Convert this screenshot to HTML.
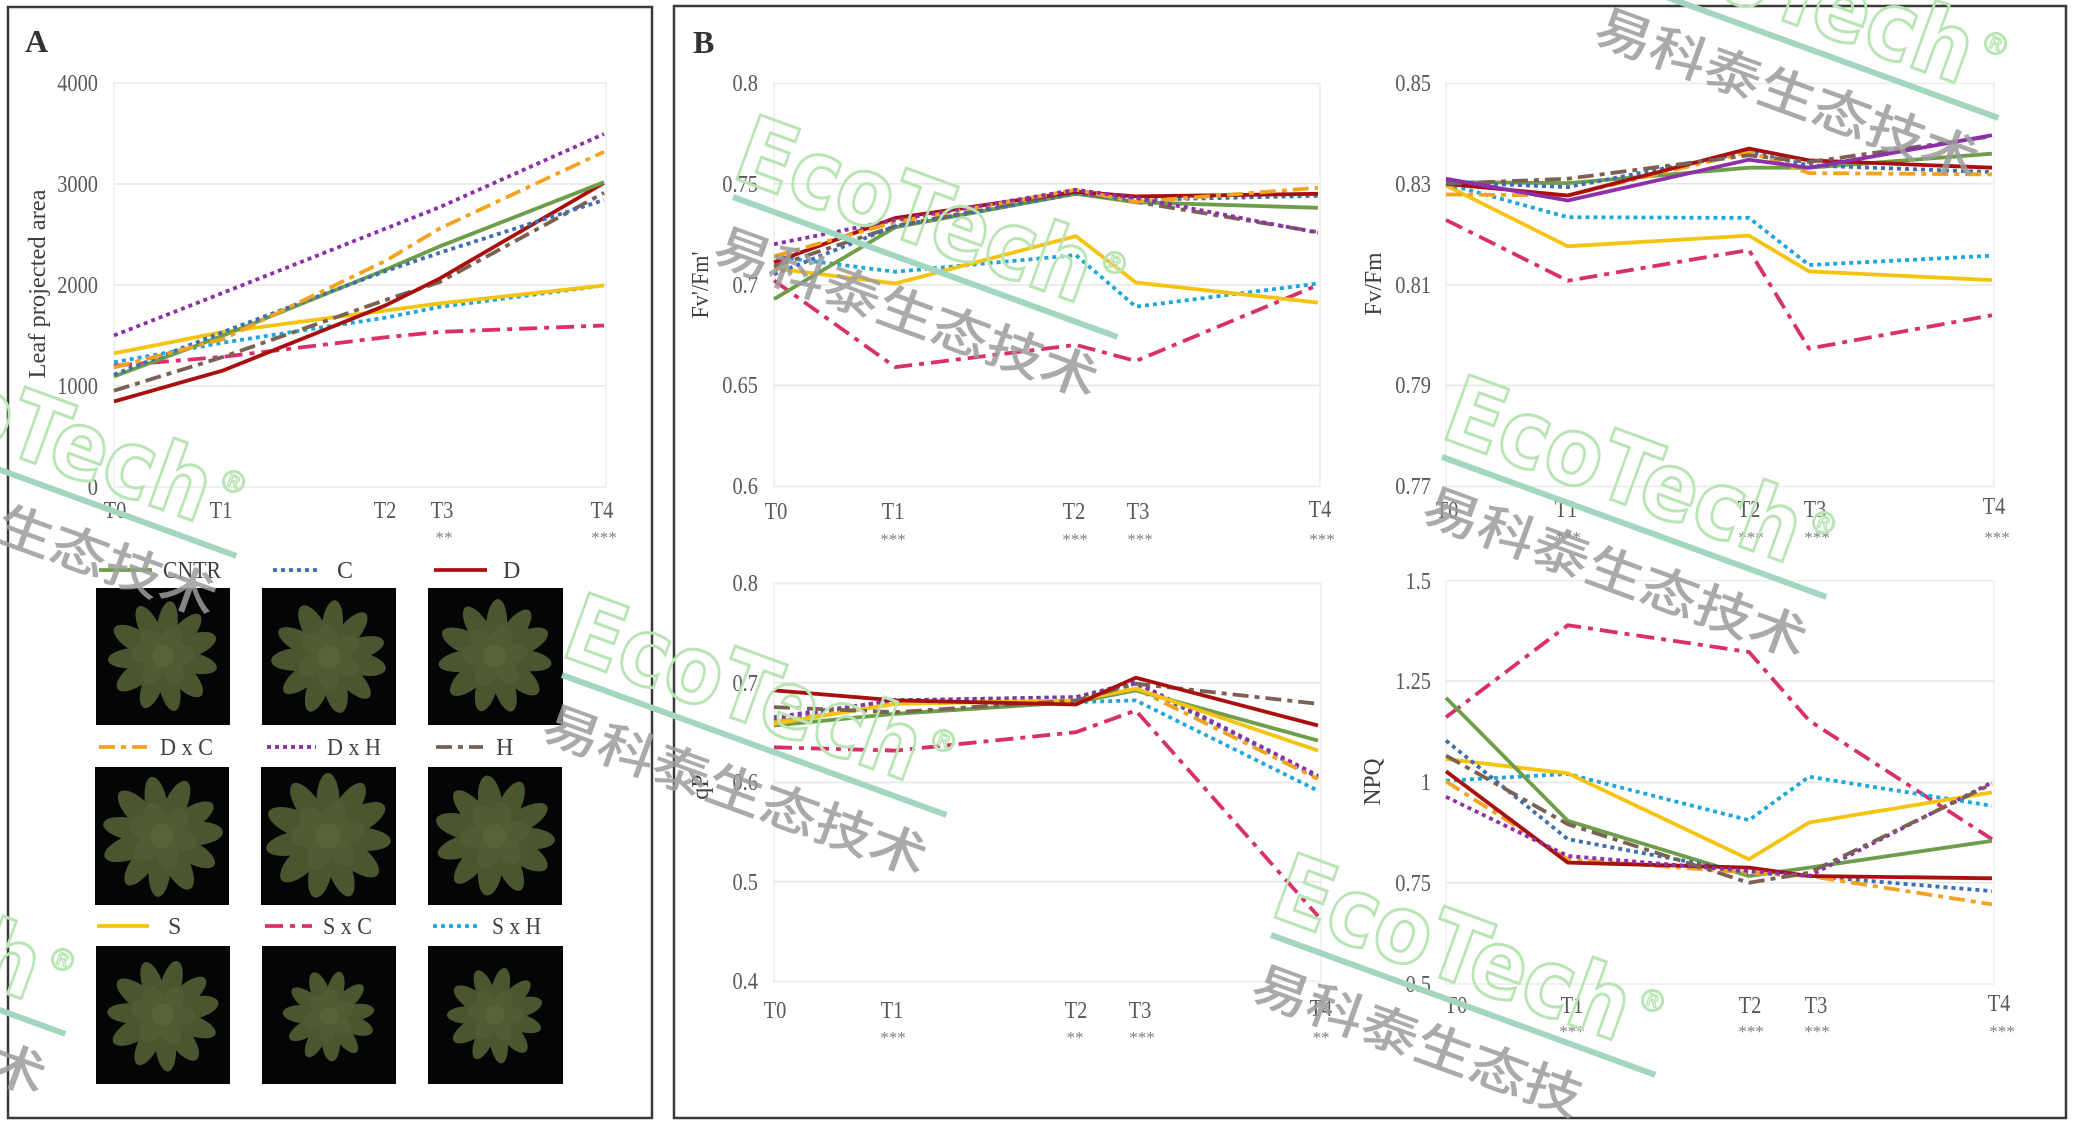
<!DOCTYPE html>
<html>
<head>
<meta charset="utf-8">
<style>
html,body{margin:0;padding:0;background:#fff;width:2075px;height:1127px;overflow:hidden;}
svg{display:block;}
text{font-family:"Liberation Serif",serif;}
.tk{font-size:24px;fill:#595959;transform-box:fill-box;transform:scaleX(.85);}
.tr{transform-origin:100% 50%;}
.tc{transform-origin:50% 50%;}
.st{font-size:17px;fill:#7f7f7f;}
.ti{font-size:24px;fill:#404040;}
.lg{font-size:24px;fill:#404040;}
.pl{font-size:32px;font-weight:bold;fill:#333;}
.grid line{stroke:#e6e6e6;stroke-width:1.6;}
.pa{fill:none;stroke:#eeeeee;stroke-width:1.5;}
.sr polyline,.sr line{fill:none;stroke-width:3.8;stroke-linejoin:round;}
.cn{stroke:#6e9e4a;}
.c{stroke:#3f6fae;stroke-dasharray:4 4;}
.d{stroke:#a8100f;}
.dc{stroke:#f2a31f;stroke-dasharray:16 6 5 6;}
.dh{stroke:#8e2faa;stroke-dasharray:4 4;}
.dhs{stroke:#8e2faa;}
.h{stroke:#7a6152;stroke-dasharray:16 6 5 6;}
.s{stroke:#f5c312;}
.sc{stroke:#d9306b;stroke-dasharray:18 7 5 7;}
.sh{stroke:#1fa6dd;stroke-dasharray:4 4;}
.eco{font-family:"DejaVu Sans",sans-serif;font-weight:bold;font-size:94px;fill:none;stroke:#b8e5b3;stroke-width:3;}
.reg{font-family:"DejaVu Sans",sans-serif;font-size:30px;fill:none;stroke:#b8e5b3;stroke-width:1.5;}
.wl{stroke:#a3d6bf;stroke-width:6;}
.cnw{font-family:"Liberation Sans","Noto Sans CJK SC",sans-serif;font-size:50px;font-weight:500;fill:#9c9c9c;opacity:.85;}
</style>
</head>
<body>
<svg width="2075" height="1127" viewBox="0 0 2075 1127" xmlns="http://www.w3.org/2000/svg">
<defs>
<g id="ros">
<g fill="#4a5630">
<ellipse cx="0" cy="-33" rx="11" ry="27" transform="rotate(0)"/>
<ellipse cx="0" cy="-33" rx="11" ry="27" transform="rotate(34)"/>
<ellipse cx="0" cy="-33" rx="12" ry="28" transform="rotate(62)"/>
<ellipse cx="0" cy="-33" rx="11" ry="27" transform="rotate(95)"/>
<ellipse cx="0" cy="-33" rx="12" ry="27" transform="rotate(128)"/>
<ellipse cx="0" cy="-33" rx="11" ry="28" transform="rotate(160)"/>
<ellipse cx="0" cy="-33" rx="11" ry="27" transform="rotate(192)"/>
<ellipse cx="0" cy="-33" rx="12" ry="28" transform="rotate(226)"/>
<ellipse cx="0" cy="-33" rx="11" ry="27" transform="rotate(258)"/>
<ellipse cx="0" cy="-33" rx="12" ry="28" transform="rotate(292)"/>
<ellipse cx="0" cy="-33" rx="11" ry="27" transform="rotate(326)"/>
</g>
<g fill="#505d33">
<ellipse cx="0" cy="-18" rx="11" ry="17" transform="rotate(18)"/>
<ellipse cx="0" cy="-18" rx="11" ry="17" transform="rotate(78)"/>
<ellipse cx="0" cy="-18" rx="11" ry="17" transform="rotate(140)"/>
<ellipse cx="0" cy="-18" rx="11" ry="17" transform="rotate(205)"/>
<ellipse cx="0" cy="-18" rx="11" ry="17" transform="rotate(270)"/>
<ellipse cx="0" cy="-18" rx="11" ry="17" transform="rotate(315)"/>
</g>
<circle r="12" fill="#566436"/>
</g>
</defs>

<rect x="0" y="0" width="2075" height="1127" fill="#fff"/>

<!-- Panel frames -->
<rect x="8" y="7" width="644" height="1111" fill="none" stroke="#3a3a3a" stroke-width="2.5"/>
<rect x="674" y="6" width="1392" height="1112" fill="none" stroke="#3a3a3a" stroke-width="2.5"/>
<text class="pl" x="25" y="52">A</text>
<text class="pl" x="693" y="53">B</text>

<!-- ============ Chart A ============ -->
<g class="grid">
<line x1="114" y1="83" x2="606" y2="83"/>
<line x1="114" y1="184" x2="606" y2="184"/>
<line x1="114" y1="285" x2="606" y2="285"/>
<line x1="114" y1="386" x2="606" y2="386"/>
<line x1="114" y1="487" x2="606" y2="487"/>
</g>
<rect class="pa" x="114" y="83" width="492" height="404"/>
<text class="tk tr" x="98" y="91" text-anchor="end">4000</text>
<text class="tk tr" x="98" y="192" text-anchor="end">3000</text>
<text class="tk tr" x="98" y="293" text-anchor="end">2000</text>
<text class="tk tr" x="98" y="394" text-anchor="end">1000</text>
<text class="tk tr" x="98" y="495" text-anchor="end">0</text>
<text class="ti" x="45" y="284" transform="rotate(-90 45 284)" text-anchor="middle" font-size="25" textLength="189" lengthAdjust="spacingAndGlyphs">Leaf projected area</text>
<text class="tk tc" x="115" y="518" text-anchor="middle">T0</text>
<text class="tk tc" x="221" y="518" text-anchor="middle">T1</text>
<text class="tk tc" x="385" y="518" text-anchor="middle">T2</text>
<text class="tk tc" x="442" y="518" text-anchor="middle">T3</text>
<text class="tk tc" x="602" y="518" text-anchor="middle">T4</text>
<text class="st" x="444" y="543" text-anchor="middle">**</text>
<text class="st" x="604" y="543" text-anchor="middle">***</text>
<g class="sr">
<polyline class="sc" points="114,365.8 223.3,356.8 386,337.2 439.9,331.9 604,325.5"/>
<polyline class="sh" points="114,362.2 223.3,342.6 386,317.6 439.9,306.9 604,285.5"/>
<polyline class="s" points="114,353.3 223.3,331.9 386,310.5 439.9,303.4 604,285.5"/>
<polyline class="h" points="114,390.7 223.3,356.8 386,299.8 439.9,282 604,192.8"/>
<polyline class="d" points="114,401.5 223.3,370.4 386,305.2 439.9,278.4 604,182.9"/>
<polyline class="cn" points="114,376.5 223.3,335.5 386,269.5 439.9,246.3 604,182.2"/>
<polyline class="c" points="114,374.7 223.3,331.9 386,270.9 439.9,252.7 604,200"/>
<polyline class="dc" points="114,367.5 223.3,339 386,260.6 439.9,228.4 604,151.8"/>
<polyline class="dh" points="114,335.5 223.3,292.7 386,228.4 439.9,207.1 604,134"/>
</g>

<!-- Legend + photos -->
<g class="sr">
<line class="cn" x1="99" y1="570" x2="152" y2="570"/>
<line class="c" x1="273" y1="570" x2="319" y2="570"/>
<line class="d" x1="434" y1="570" x2="487" y2="570"/>
<line class="dc" x1="99" y1="747" x2="147" y2="747"/>
<line class="dh" x1="267" y1="747" x2="316" y2="747"/>
<line class="h" x1="436" y1="747" x2="483" y2="747"/>
<line class="s" x1="97" y1="926" x2="149" y2="926"/>
<line class="sc" x1="265" y1="926" x2="312" y2="926"/>
<line class="sh" x1="433" y1="926" x2="478" y2="926"/>
</g>
<text class="lg" x="163" y="578" textLength="58" lengthAdjust="spacingAndGlyphs">CNTR</text>
<text class="lg" x="337" y="578">C</text>
<text class="lg" x="503" y="578">D</text>
<text class="lg" x="160" y="755" textLength="53" lengthAdjust="spacingAndGlyphs">D x C</text>
<text class="lg" x="327" y="755" textLength="54" lengthAdjust="spacingAndGlyphs">D x H</text>
<text class="lg" x="496" y="755">H</text>
<text class="lg" x="168" y="934">S</text>
<text class="lg" x="323" y="934" textLength="49" lengthAdjust="spacingAndGlyphs">S x C</text>
<text class="lg" x="492" y="934" textLength="49" lengthAdjust="spacingAndGlyphs">S x H</text>

<g fill="#050505">
<rect x="96" y="588" width="134" height="137"/>
<rect x="262" y="588" width="134" height="137"/>
<rect x="428" y="588" width="135" height="137"/>
<rect x="95" y="767" width="134" height="138"/>
<rect x="261" y="767" width="135" height="138"/>
<rect x="428" y="767" width="134" height="138"/>
<rect x="96" y="946" width="134" height="138"/>
<rect x="262" y="946" width="134" height="138"/>
<rect x="428" y="946" width="135" height="138"/>
</g>
<use href="#ros" transform="translate(163,656) rotate(8) scale(0.92)"/>
<use href="#ros" transform="translate(329,657) rotate(40) scale(0.95)"/>
<use href="#ros" transform="translate(495,656) rotate(3) scale(0.95)"/>
<use href="#ros" transform="translate(162,836) rotate(24) scale(1.0)"/>
<use href="#ros" transform="translate(328,836) rotate(0) scale(1.05)"/>
<use href="#ros" transform="translate(495,836) rotate(60) scale(1.0)"/>
<use href="#ros" transform="translate(163,1015) rotate(15) scale(0.93)"/>
<use href="#ros" transform="translate(329,1016) rotate(48) scale(0.76)"/>
<use href="#ros" transform="translate(495,1015) rotate(12) scale(0.8)"/>

<!-- ============ B1 Fv'/Fm' ============ -->
<g class="grid">
<line x1="774" y1="83.4" x2="1320" y2="83.4"/>
<line x1="774" y1="183.8" x2="1320" y2="183.8"/>
<line x1="774" y1="285" x2="1320" y2="285"/>
<line x1="774" y1="385.4" x2="1320" y2="385.4"/>
<line x1="774" y1="486.4" x2="1320" y2="486.4"/>
</g>
<rect class="pa" x="774" y="83.4" width="546" height="403"/>
<text class="tk tr" x="758" y="91" text-anchor="end">0.8</text>
<text class="tk tr" x="758" y="192" text-anchor="end">0.75</text>
<text class="tk tr" x="758" y="293" text-anchor="end">0.7</text>
<text class="tk tr" x="758" y="393" text-anchor="end">0.65</text>
<text class="tk tr" x="758" y="494" text-anchor="end">0.6</text>
<text class="ti" x="708" y="285" transform="rotate(-90 708 285)" text-anchor="middle" textLength="67" lengthAdjust="spacingAndGlyphs">Fv'/Fm'</text>
<text class="tk tc" x="776" y="519" text-anchor="middle">T0</text>
<text class="tk tc" x="893" y="519" text-anchor="middle">T1</text>
<text class="tk tc" x="1074" y="519" text-anchor="middle">T2</text>
<text class="tk tc" x="1138" y="519" text-anchor="middle">T3</text>
<text class="tk tc" x="1320" y="517" text-anchor="middle">T4</text>
<text class="st" x="893" y="545" text-anchor="middle">***</text>
<text class="st" x="1075" y="545" text-anchor="middle">***</text>
<text class="st" x="1140" y="545" text-anchor="middle">***</text>
<text class="st" x="1322" y="545" text-anchor="middle">***</text>
<g class="sr">
<polyline class="sc" points="774,280.5 895.3,367.1 1075.9,344.9 1135.8,361 1318,285.1"/>
<polyline class="sh" points="774,256.3 895.3,271.8 1075.9,255.1 1135.8,306.7 1318,283.5"/>
<polyline class="s" points="774,268.4 895.3,283.5 1075.9,236.1 1135.8,282.5 1318,302.6"/>
<polyline class="cn" points="774,299.1 895.3,227.2 1075.9,193.8 1135.8,202.2 1318,207.8"/>
<polyline class="h" points="774,266.4 895.3,226.1 1075.9,191.8 1135.8,201.9 1318,232.1"/>
<polyline class="c" points="774,274.4 895.3,226.1 1075.9,193.8 1135.8,199.9 1318,195.8"/>
<polyline class="d" points="774,262.3 895.3,218 1075.9,191.8 1135.8,196.4 1318,193.8"/>
<polyline class="dc" points="774,256.3 895.3,222 1075.9,189.8 1135.8,201.9 1318,187.8"/>
<polyline class="dh" points="774,244.2 895.3,220 1075.9,189.8 1135.8,197.9 1318,232.7"/>
</g>

<!-- ============ B2 Fv/Fm ============ -->
<g class="grid">
<line x1="1446" y1="83.4" x2="1994" y2="83.4"/>
<line x1="1446" y1="183.8" x2="1994" y2="183.8"/>
<line x1="1446" y1="285" x2="1994" y2="285"/>
<line x1="1446" y1="385.4" x2="1994" y2="385.4"/>
<line x1="1446" y1="486.4" x2="1994" y2="486.4"/>
</g>
<rect class="pa" x="1446" y="83.4" width="548" height="403"/>
<text class="tk tr" x="1431" y="91" text-anchor="end">0.85</text>
<text class="tk tr" x="1431" y="192" text-anchor="end">0.83</text>
<text class="tk tr" x="1431" y="293" text-anchor="end">0.81</text>
<text class="tk tr" x="1431" y="393" text-anchor="end">0.79</text>
<text class="tk tr" x="1431" y="494" text-anchor="end">0.77</text>
<text class="ti" x="1381" y="284" transform="rotate(-90 1381 284)" text-anchor="middle" textLength="63" lengthAdjust="spacingAndGlyphs">Fv/Fm</text>
<text class="tk tc" x="1447" y="518" text-anchor="middle">T0</text>
<text class="tk tc" x="1566" y="517" text-anchor="middle">T1</text>
<text class="tk tc" x="1749" y="517" text-anchor="middle">T2</text>
<text class="tk tc" x="1815" y="517" text-anchor="middle">T3</text>
<text class="tk tc" x="1994" y="514" text-anchor="middle">T4</text>
<text class="st" x="1568" y="543" text-anchor="middle">***</text>
<text class="st" x="1751" y="543" text-anchor="middle">***</text>
<text class="st" x="1817" y="543" text-anchor="middle">***</text>
<text class="st" x="1997" y="543" text-anchor="middle">***</text>
<g class="sr">
<polyline class="sc" points="1446,219.9 1567.8,280.7 1749,250 1809.1,348.6 1992,315.2"/>
<polyline class="s" points="1446,185.4 1567.8,246.3 1749,235.6 1809.1,271.4 1992,280.1"/>
<polyline class="sh" points="1446,183.8 1567.8,217.2 1749,217.9 1809.1,265 1992,255.7"/>
<polyline class="cn" points="1446,182.1 1567.8,183.1 1749,167.7 1809.1,167.7 1992,153.7"/>
<polyline class="c" points="1446,182.1 1567.8,187.1 1749,152 1809.1,165.4 1992,172.1"/>
<polyline class="dc" points="1446,194.5 1567.8,195.5 1749,152 1809.1,173.1 1992,174.4"/>
<polyline class="d" points="1446,183.8 1567.8,195.5 1749,148.6 1809.1,160.4 1992,167.7"/>
<polyline class="h" points="1446,183.8 1567.8,178.7 1749,155.3 1809.1,162 1992,136.3"/>
<polyline class="dhs" points="1446,178.7 1567.8,200.5 1749,159.7 1809.1,167.7 1992,135.3"/>
</g>

<!-- ============ B3 qP ============ -->
<g class="grid">
<line x1="774" y1="583.4" x2="1321" y2="583.4"/>
<line x1="774" y1="682.7" x2="1321" y2="682.7"/>
<line x1="774" y1="782.4" x2="1321" y2="782.4"/>
<line x1="774" y1="881.7" x2="1321" y2="881.7"/>
<line x1="774" y1="981.3" x2="1321" y2="981.3"/>
</g>
<rect class="pa" x="774" y="583.4" width="547" height="398"/>
<text class="tk tr" x="758" y="591" text-anchor="end">0.8</text>
<text class="tk tr" x="758" y="691" text-anchor="end">0.7</text>
<text class="tk tr" x="758" y="790" text-anchor="end">0.6</text>
<text class="tk tr" x="758" y="890" text-anchor="end">0.5</text>
<text class="tk tr" x="758" y="989" text-anchor="end">0.4</text>
<text class="ti" x="708" y="787" transform="rotate(-90 708 787)" text-anchor="middle">qP</text>
<text class="tk tc" x="775" y="1018" text-anchor="middle">T0</text>
<text class="tk tc" x="892" y="1018" text-anchor="middle">T1</text>
<text class="tk tc" x="1076" y="1018" text-anchor="middle">T2</text>
<text class="tk tc" x="1140" y="1018" text-anchor="middle">T3</text>
<text class="tk tc" x="1321" y="1016" text-anchor="middle">T4</text>
<text class="st" x="893" y="1043" text-anchor="middle">***</text>
<text class="st" x="1075" y="1043" text-anchor="middle">**</text>
<text class="st" x="1142" y="1043" text-anchor="middle">***</text>
<text class="st" x="1321" y="1043" text-anchor="middle">**</text>
<g class="sr">
<polyline class="sc" points="774,747.3 895.3,750.6 1075.9,732.2 1135.8,710.5 1318,916.1"/>
<polyline class="sh" points="774,720.5 895.3,699.8 1075.9,702.1 1135.8,700.4 1318,790.7"/>
<polyline class="c" points="774,720.5 895.3,700.4 1075.9,697.1 1135.8,683.7 1318,777.4"/>
<polyline class="dh" points="774,717.2 895.3,700.4 1075.9,697.1 1135.8,682.1 1318,775.7"/>
<polyline class="dc" points="774,722.2 895.3,703.8 1075.9,700.4 1135.8,688.7 1318,779"/>
<polyline class="cn" points="774,725.5 895.3,713.8 1075.9,702.1 1135.8,690.4 1318,740.6"/>
<polyline class="s" points="774,723.9 895.3,703.8 1075.9,700.4 1135.8,688.7 1318,750.6"/>
<polyline class="h" points="774,707.1 895.3,712.2 1075.9,700.4 1135.8,683.7 1318,703.8"/>
<polyline class="d" points="774,690.4 895.3,700.4 1075.9,704.5 1135.8,677.7 1318,725.5"/>
</g>

<!-- ============ B4 NPQ ============ -->
<g class="grid">
<line x1="1446" y1="580.7" x2="1994" y2="580.7"/>
<line x1="1446" y1="681" x2="1994" y2="681"/>
<line x1="1446" y1="782.4" x2="1994" y2="782.4"/>
<line x1="1446" y1="882.7" x2="1994" y2="882.7"/>
<line x1="1446" y1="984" x2="1994" y2="984"/>
</g>
<rect class="pa" x="1446" y="580.7" width="548" height="403.3"/>
<text class="tk tr" x="1431" y="589" text-anchor="end">1.5</text>
<text class="tk tr" x="1431" y="689" text-anchor="end">1.25</text>
<text class="tk tr" x="1431" y="790" text-anchor="end">1</text>
<text class="tk tr" x="1431" y="891" text-anchor="end">0.75</text>
<text class="tk tr" x="1431" y="992" text-anchor="end">0.5</text>
<text class="ti" x="1380" y="782" transform="rotate(-90 1380 782)" text-anchor="middle" textLength="47" lengthAdjust="spacingAndGlyphs">NPQ</text>
<text class="tk tc" x="1456" y="1013" text-anchor="middle">T0</text>
<text class="tk tc" x="1572" y="1013" text-anchor="middle">T1</text>
<text class="tk tc" x="1750" y="1013" text-anchor="middle">T2</text>
<text class="tk tc" x="1816" y="1013" text-anchor="middle">T3</text>
<text class="tk tc" x="1999" y="1011" text-anchor="middle">T4</text>
<text class="st" x="1572" y="1037" text-anchor="middle">***</text>
<text class="st" x="1751" y="1037" text-anchor="middle">***</text>
<text class="st" x="1817" y="1037" text-anchor="middle">***</text>
<text class="st" x="2002" y="1037" text-anchor="middle">***</text>
<g class="sr">
<polyline class="sc" points="1446,717.2 1567.8,625.2 1749,652 1809.1,720.5 1992,839.2"/>
<polyline class="sh" points="1446,780.7 1567.8,774 1749,820.2 1809.1,776.7 1992,805.8"/>
<polyline class="s" points="1446,759 1567.8,773.3 1749,859.3 1809.1,822.5 1992,792.4"/>
<polyline class="cn" points="1446,697.8 1567.8,820.8 1749,876 1809.1,867.6 1992,840.9"/>
<polyline class="c" points="1446,740.6 1567.8,839.2 1749,872.7 1809.1,876 1992,891.1"/>
<polyline class="dc" points="1446,781.4 1567.8,859.3 1749,872.7 1809.1,876 1992,904.4"/>
<polyline class="d" points="1446,771.3 1567.8,862.6 1749,867.6 1809.1,876 1992,878.3"/>
<polyline class="dh" points="1446,796.8 1567.8,856 1749,871 1809.1,876 1992,782.4"/>
<polyline class="h" points="1446,755.6 1567.8,824.2 1749,882.7 1809.1,872.7 1992,784"/>
</g>

<!-- ============ Watermarks ============ -->
<g transform="translate(1614,-22) rotate(20)">
<text class="eco" x="-10" y="-18" textLength="372" lengthAdjust="spacingAndGlyphs">EcoTech</text>
<text class="reg" x="366" y="-58">®</text>
<line class="wl" x1="0" y1="0" x2="409" y2="0"/>
<text class="cnw" x="0" y="67" textLength="405" lengthAdjust="spacingAndGlyphs">易科泰生态技术</text>
</g>
<g transform="translate(733,197) rotate(20)">
<text class="eco" x="-10" y="-18" textLength="372" lengthAdjust="spacingAndGlyphs">EcoTech</text>
<text class="reg" x="366" y="-58">®</text>
<line class="wl" x1="0" y1="0" x2="409" y2="0"/>
<text class="cnw" x="0" y="67" textLength="405" lengthAdjust="spacingAndGlyphs">易科泰生态技术</text>
</g>
<g transform="translate(-148,416) rotate(20)">
<text class="eco" x="-10" y="-18" textLength="372" lengthAdjust="spacingAndGlyphs">EcoTech</text>
<text class="reg" x="366" y="-58">®</text>
<line class="wl" x1="0" y1="0" x2="409" y2="0"/>
<text class="cnw" x="0" y="67" textLength="405" lengthAdjust="spacingAndGlyphs">易科泰生态技术</text>
</g>
<g transform="translate(562,675) rotate(20)">
<text class="eco" x="-10" y="-18" textLength="372" lengthAdjust="spacingAndGlyphs">EcoTech</text>
<text class="reg" x="366" y="-58">®</text>
<line class="wl" x1="0" y1="0" x2="409" y2="0"/>
<text class="cnw" x="0" y="67" textLength="405" lengthAdjust="spacingAndGlyphs">易科泰生态技术</text>
</g>
<g transform="translate(1442,457) rotate(20)">
<text class="eco" x="-10" y="-18" textLength="372" lengthAdjust="spacingAndGlyphs">EcoTech</text>
<text class="reg" x="366" y="-58">®</text>
<line class="wl" x1="0" y1="0" x2="409" y2="0"/>
<text class="cnw" x="0" y="67" textLength="405" lengthAdjust="spacingAndGlyphs">易科泰生态技术</text>
</g>
<g transform="translate(-319,894) rotate(20)">
<text class="eco" x="-10" y="-18" textLength="372" lengthAdjust="spacingAndGlyphs">EcoTech</text>
<text class="reg" x="366" y="-58">®</text>
<line class="wl" x1="0" y1="0" x2="409" y2="0"/>
<text class="cnw" x="0" y="67" textLength="405" lengthAdjust="spacingAndGlyphs">易科泰生态技术</text>
</g>
<g transform="translate(1271,935) rotate(20)">
<text class="eco" x="-10" y="-18" textLength="372" lengthAdjust="spacingAndGlyphs">EcoTech</text>
<text class="reg" x="366" y="-58">®</text>
<line class="wl" x1="0" y1="0" x2="409" y2="0"/>
<text class="cnw" x="0" y="67" textLength="347" lengthAdjust="spacingAndGlyphs">易科泰生态技</text>
</g>
</svg>
</body>
</html>
